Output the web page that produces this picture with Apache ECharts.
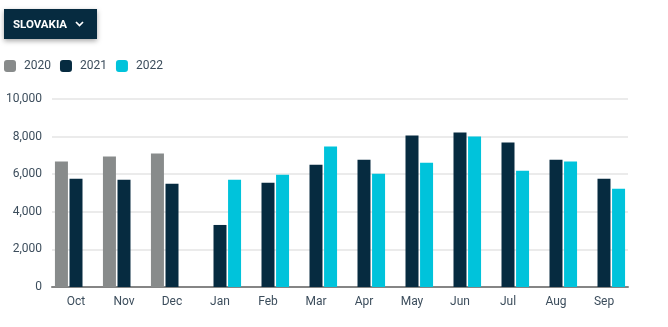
<!DOCTYPE html>
<html>
<head>
<meta charset="utf-8">
<script src="https://cdn.jsdelivr.net/npm/echarts@6/dist/echarts.min.js"></script>
<style>
html,body{margin:0;padding:0;background:#fff;}
#chart{width:668px;height:327px;position:absolute;left:0;top:0;}
#btn{position:absolute;left:4px;top:9px;width:93px;height:30px;background:#062b40;box-shadow:0 2px 5px rgba(0,0,0,0.35);
color:#fff;font-family:Roboto,sans-serif;font-weight:bold;font-size:11.5px;line-height:30px;box-sizing:border-box;padding-left:9px;z-index:2;}
#btn svg{position:absolute;left:71px;top:12px;}
</style>
</head>
<body>
<div id="chart"></div>
<div id="btn">SLOVAKIA<svg width="9" height="6" viewBox="0 0 9 6"><polyline points="1,1 4.5,4.5 8,1" fill="none" stroke="#fff" stroke-width="1.7"/></svg></div>
<script>
const categories = ['Oct','Nov','Dec','Jan','Feb','Mar','Apr','May','Jun','Jul','Aug','Sep'];
const seriesNames = ['2020','2021','2022'];
const values2020 = [6670, 6935, 7096, null, null, null, null, null, null, null, null, null];
const values2021 = [5760, 5706, 5492, 3300, 5545, 6508, 6775, 8059, 8219, 7684, 6775, 5760];
const values2022 = [null, null, null, 5706, 5973, 7470, 6027, 6615, 8005, 6187, 6670, 5225];
const colors = ['#888b8b', '#062b40', '#00c3db'];

const chart = echarts.init(document.getElementById('chart'), null, {renderer: 'canvas'});
const font = 'Roboto';
const dataSets = [values2020, values2021, values2022];
chart.setOption({
  animation: false,
  color: colors,
  legend: {
    left: 4, top: 60, padding: 0, itemWidth: 12, itemHeight: 12, itemGap: 9,
    icon: 'roundRect',
    textStyle: {fontFamily: font, fontSize: 12, color: '#3c4d5c', padding: [0,0,0,3]},
    data: seriesNames
  },
  grid: {left: 52, right: 40, top: 99, bottom: 40, containLabel: false},
  xAxis: {
    type: 'category', data: categories,
    axisLine: {lineStyle: {color: '#858585', width: 2}},
    axisTick: {show: false},
    axisLabel: {fontFamily: font, fontSize: 12, color: '#3c4d5c', margin: 9}
  },
  yAxis: {
    type: 'value', min: 0, max: 10000, interval: 2000,
    axisLine: {show: false}, axisTick: {show: false},
    splitLine: {lineStyle: {color: '#ebebeb', width: 2}},
    axisLabel: {fontFamily: font, fontSize: 12, color: '#3c4d5c', margin: 10,
      formatter: v => v.toLocaleString('en-US')}
  },
  series: seriesNames.map((n, i) => ({
    name: n, type: 'bar', data: dataSets[i], barWidth: 13, barGap: '12%',
    itemStyle: {color: colors[i]}
  }))
});
</script>
</body>
</html>
